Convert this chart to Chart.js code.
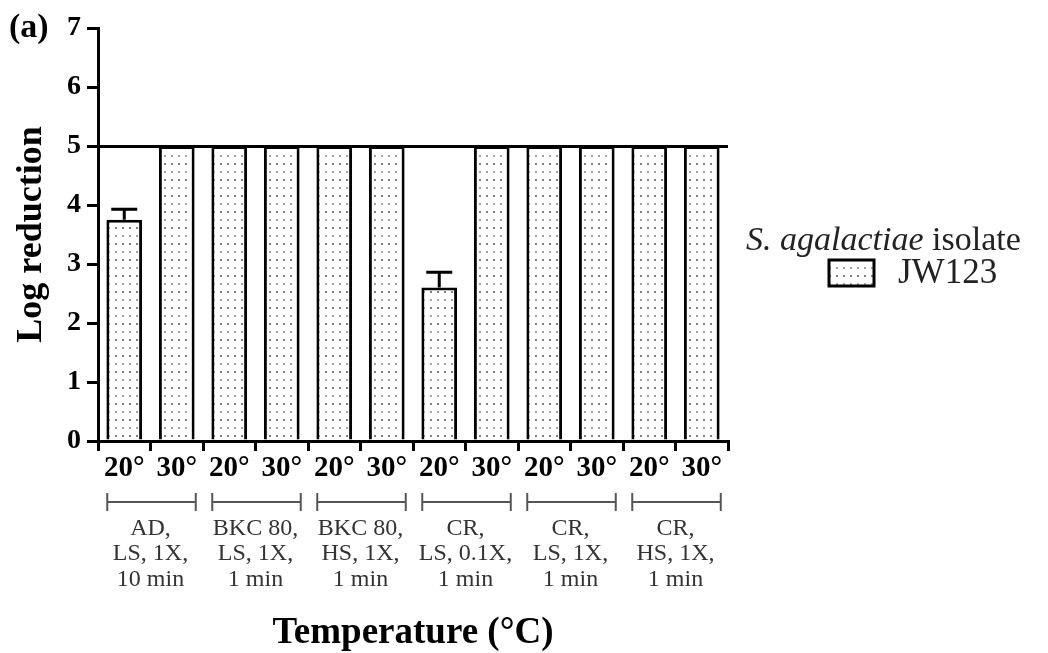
<!DOCTYPE html>
<html><head><meta charset="utf-8">
<script src="https://cdn.jsdelivr.net/npm/chart.js@4.4.0/dist/chart.umd.min.js"></script>
<style>html,body{margin:0;padding:0;background:#fff;}#wrap{width:1048px;height:653px;position:relative;}</style>
</head><body><div id="wrap"><canvas id="c" width="1048" height="653"></canvas></div>
<script>
// ---- data ----
const tempLabels = ['20°','30°','20°','30°','20°','30°','20°','30°','20°','30°','20°','30°'];
const groupLabels = [
  ['AD,','LS, 1X,','10 min'],
  ['BKC 80,','LS, 1X,','1 min'],
  ['BKC 80,','HS, 1X,','1 min'],
  ['CR,','LS, 0.1X,','1 min'],
  ['CR,','LS, 1X,','1 min'],
  ['CR,','HS, 1X,','1 min']
];
const logReduction = [3.75, 5, 5, 5, 5, 5, 2.60, 5, 5, 5, 5, 5];
const errorUp      = [0.18, 0, 0, 0, 0, 0, 0.26, 0, 0, 0, 0, 0];
const yMin = 0, yMax = 7, yStep = 1;
const detectionLimit = 5;
const seriesName = 'JW123';
const legendTitleItalic = 'S. agalactiae';
const legendTitleRest = ' isolate';
const yTitle = 'Log reduction';
const xTitle = 'Temperature (°C)';
const panelLabel = '(a)';

// ---- pattern ----
function dotPattern(){
  const c = document.createElement('canvas'); c.width = 7; c.height = 16;
  const g = c.getContext('2d');
  g.fillStyle = '#fff'; g.fillRect(0,0,7,16);
  g.fillStyle = '#808080'; g.fillRect(3,3,2,2);
  g.fillStyle = '#a5a5a5'; g.fillRect(3,11,2,2);
  return g.createPattern(c,'repeat');
}
const pat = dotPattern();

const SERIF = '"Liberation Serif", "Times New Roman", serif';

const errorBars = {
  id:'errorBars',
  afterDatasetsDraw(chart){
    const ctx = chart.ctx, meta = chart.getDatasetMeta(0), y = chart.scales.y;
    ctx.save(); ctx.strokeStyle = '#000'; ctx.lineWidth = 3;
    errorUp.forEach((e,i)=>{
      if(!e) return;
      const bar = meta.data[i];
      const top = y.getPixelForValue(logReduction[i] + e);
      ctx.beginPath();
      ctx.moveTo(bar.x, bar.y); ctx.lineTo(bar.x, top);
      ctx.moveTo(bar.x - 13, top); ctx.lineTo(bar.x + 13, top);
      ctx.stroke();
    });
    ctx.restore();
  }
};

const decorations = {
  id:'decorations',
  afterDraw(chart){
    const ctx = chart.ctx, x = chart.scales.x, ca = chart.chartArea;
    ctx.save();
    // group brackets
    ctx.strokeStyle = '#555'; ctx.lineWidth = 2;
    const by = x.bottom + 11;
    groupLabels.forEach((g,k)=>{
      const x0 = x.getPixelForTick(2*k) - 17, x1 = x.getPixelForTick(2*k+1) + 19;
      ctx.beginPath();
      ctx.moveTo(x0, by); ctx.lineTo(x1, by);
      ctx.moveTo(x0, by-9); ctx.lineTo(x0, by+9);
      ctx.moveTo(x1, by-9); ctx.lineTo(x1, by+9);
      ctx.stroke();
    });
    // panel label
    ctx.fillStyle = '#000'; ctx.textBaseline = 'middle'; ctx.textAlign = 'left';
    ctx.font = 'bold 34px ' + SERIF;
    ctx.fillText(panelLabel, 9, ca.top);
    // legend
    const lx = ca.right + 18, ly = 241;
    ctx.font = 'italic 34px ' + SERIF;
    ctx.fillStyle = '#222';
    ctx.fillText(legendTitleItalic, lx, ly);
    const w = ctx.measureText(legendTitleItalic).width;
    ctx.font = '34px ' + SERIF;
    ctx.fillText(legendTitleRest, lx + w, ly);
    const bx = ca.right + 101, byy = 260, bw = 45, bh = 26;
    ctx.fillStyle = pat; ctx.fillRect(bx, byy, bw, bh);
    ctx.strokeStyle = '#000'; ctx.lineWidth = 3; ctx.strokeRect(bx, byy, bw, bh);
    ctx.fillStyle = '#222'; ctx.font = '35px ' + SERIF;
    ctx.fillText(seriesName, ca.right + 170, byy + bh/2 + 1);
    ctx.restore();
  }
};

new Chart(document.getElementById('c'), {
  type:'bar',
  data:{
    labels: tempLabels,
    datasets:[{
      label: seriesName,
      data: logReduction,
      backgroundColor: pat,
      borderColor:'#000',
      borderWidth:3,
      borderSkipped:'bottom',
      barPercentage:0.68,
      categoryPercentage:1
    }]
  },
  options:{
    responsive:false,
    animation:false,
    devicePixelRatio:1,
    layout:{padding:{left:10, right:320, top:28, bottom:0}},
    plugins:{legend:{display:false}, tooltip:{enabled:false}},
    scales:{
      y:{
        min:yMin, max:yMax,
        ticks:{stepSize:yStep, color:'#000', padding:6, font:{family:SERIF, weight:'bold', size:28}},
        grid:{
          color:(c)=> c.tick && c.tick.value === detectionLimit ? '#000' : 'rgba(0,0,0,0)',
          lineWidth:3, tickColor:'#000', tickLength:11, drawTicks:true
        },
        border:{display:true, color:'#000', width:3},
        title:{display:true, text:yTitle, color:'#000', font:{family:SERIF, weight:'bold', size:36}, padding:0},
        afterFit(s){ s.width = 88; }
      },
      x:{
        weight:0,
        ticks:{color:'#000', padding:0, autoSkip:false, maxRotation:0, font:{family:SERIF, weight:'bold', size:29}},
        grid:{drawOnChartArea:false, tickColor:'#000', lineWidth:3, tickLength:10},
        border:{display:true, color:'#000', width:3},
        afterFit(s){ s.height = 50; }
      },
      x2:{
        type:'category', position:'bottom', weight:1,
        labels: groupLabels,
        offset:true,
        ticks:{color:'#333', padding:25, autoSkip:false, maxRotation:0, font:{family:SERIF, size:24, lineHeight:1.06}},
        grid:{display:false, drawTicks:false},
        border:{display:false},
        title:{display:true, text:xTitle, color:'#000', font:{family:SERIF, weight:'bold', size:37, lineHeight:1.05}, padding:0},
        afterFit(s){ s.height = 162; }
      }
    }
  },
  plugins:[errorBars, decorations]
});
</script></body></html>
